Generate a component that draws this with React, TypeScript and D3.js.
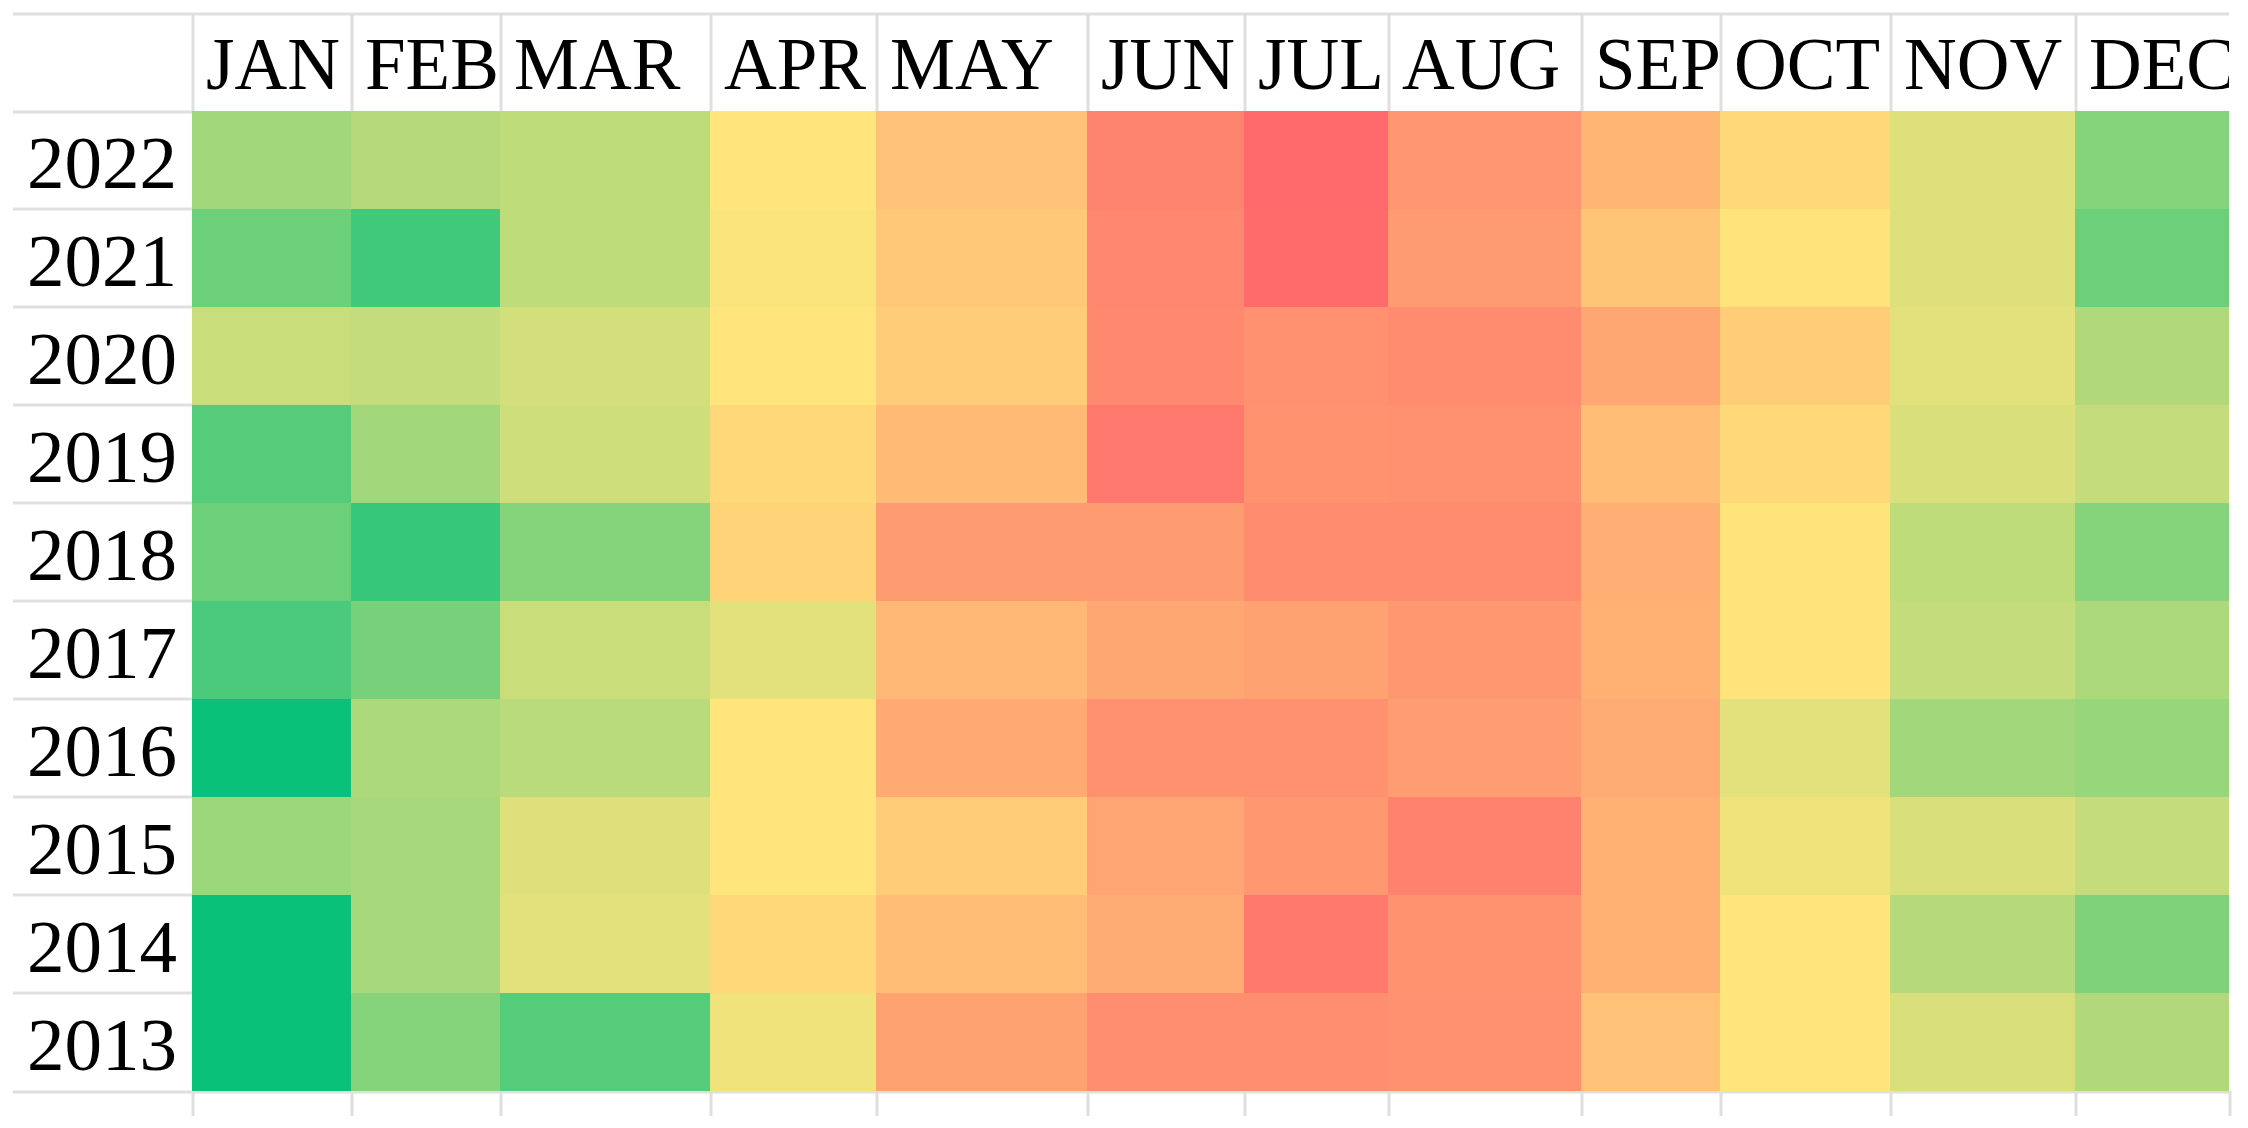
import React from 'react';
import * as d3 from 'd3';

const months = ['JAN', 'FEB', 'MAR', 'APR', 'MAY', 'JUN', 'JUL', 'AUG', 'SEP', 'OCT', 'NOV', 'DEC'];
const years = ['2022', '2021', '2020', '2019', '2018', '2017', '2016', '2015', '2014', '2013'];

// relative values (0 = greenest, 100 = reddest)
const v2022 = [31, 35, 37, 50, 64, 89, 100, 82, 69, 55, 43, 25];
const v2021 = [20, 11, 37, 49, 62, 88, 99, 80, 63, 51, 43, 20];
const v2020 = [39, 38, 41, 50, 60, 87, 84, 86, 75, 60, 44, 34];
const v2019 = [15, 31, 40, 55, 67, 94, 83, 84, 66, 55, 42, 38];
const v2018 = [20, 9, 25, 57, 80, 80, 86, 86, 72, 51, 37, 25];
const v2017 = [13, 22, 39, 44, 68, 75, 77, 81, 71, 51, 38, 33];
const v2016 = [0, 33, 36, 50, 74, 84, 84, 79, 73, 44, 31, 29];
const v2015 = [30, 32, 43, 50, 60, 76, 81, 90, 71, 47, 42, 38];
const v2014 = [0, 32, 44, 55, 66, 73, 93, 83, 71, 50, 35, 24];
const v2013 = [0, 25, 15, 47, 77, 85, 85, 84, 64, 50, 42, 34];
const values = [v2022, v2021, v2020, v2019, v2018, v2017, v2016, v2015, v2014, v2013];

// layout
const colWidths = [159, 149, 210, 166, 211, 157, 144, 193, 139, 170, 185, 154];
const gridLeft = 192;
const topLine = 14;
const headerBottom = 111;
const rowH = 98;
const lineColor = '#dfdfdf';
const font = '"Liberation Serif", "Times New Roman", serif';

const App = () => {
  const starts = [gridLeft, ...Array.from(d3.cumsum(colWidths)).map(d => gridLeft + d)];
  const gridRight = starts[starts.length - 1];
  const x = d3.scaleOrdinal<string, number>().domain(months).range(starts.slice(0, 12));
  const w = d3.scaleOrdinal<string, number>().domain(months).range(colWidths);
  const y = d3.scaleBand().domain(years).range([headerBottom, headerBottom + rowH * years.length]);
  const color = d3.scaleLinear<string>()
    .domain([0, 50, 100])
    .range(['#0ac17a', '#ffe57b', '#ff696b'])
    .interpolate(d3.interpolateRgb);
  const bottom = headerBottom + rowH * years.length;

  return (
    <svg width={2248} height={1128} style={{ position: 'absolute', left: 0, top: 0, background: '#fff' }}>
      <defs>
        <clipPath id="gridclip">
          <rect x={0} y={0} width={gridRight} height={1128} />
        </clipPath>
      </defs>
      {/* grid lines */}
      <line x1={13} x2={gridRight} y1={topLine} y2={topLine} stroke={lineColor} strokeWidth={3} />
      {years.map((yr, i) => (
        <line key={'h' + yr} x1={13} x2={gridLeft} y1={y(yr)! + (i === 0 ? 1 : 0)} y2={y(yr)! + (i === 0 ? 1 : 0)}
          stroke={lineColor} strokeWidth={3} />
      ))}
      <line x1={13} x2={gridRight} y1={bottom + 1} y2={bottom + 1} stroke={lineColor} strokeWidth={3} />
      {starts.map((sx, i) => (
        <g key={'v' + i}>
          {i < 12 && <line x1={sx + 1} x2={sx + 1} y1={topLine} y2={headerBottom} stroke={lineColor} strokeWidth={3} />}
          <line x1={sx + 1} x2={sx + 1} y1={bottom} y2={bottom + 25} stroke={lineColor} strokeWidth={3} />
        </g>
      ))}
      {/* cells */}
      {years.map((yr, r) =>
        months.map((m, c) => (
          <rect key={yr + m} x={x(m)} y={y(yr)} width={w(m)} height={y.bandwidth()}
            fill={color(values[r][c])} />
        ))
      )}
      {/* header labels */}
      <g clipPath="url(#gridclip)">
        {months.map(m => (
          <text key={m} x={x(m) + 14} y={89} fontFamily={font} fontSize={73} fill="#000">{m}</text>
        ))}
      </g>
      {/* row labels */}
      {years.map(yr => (
        <text key={'t' + yr} x={27} y={y(yr)! + 77} fontFamily={font} fontSize={75} fill="#000">{yr}</text>
      ))}
    </svg>
  );
};

export default App;
